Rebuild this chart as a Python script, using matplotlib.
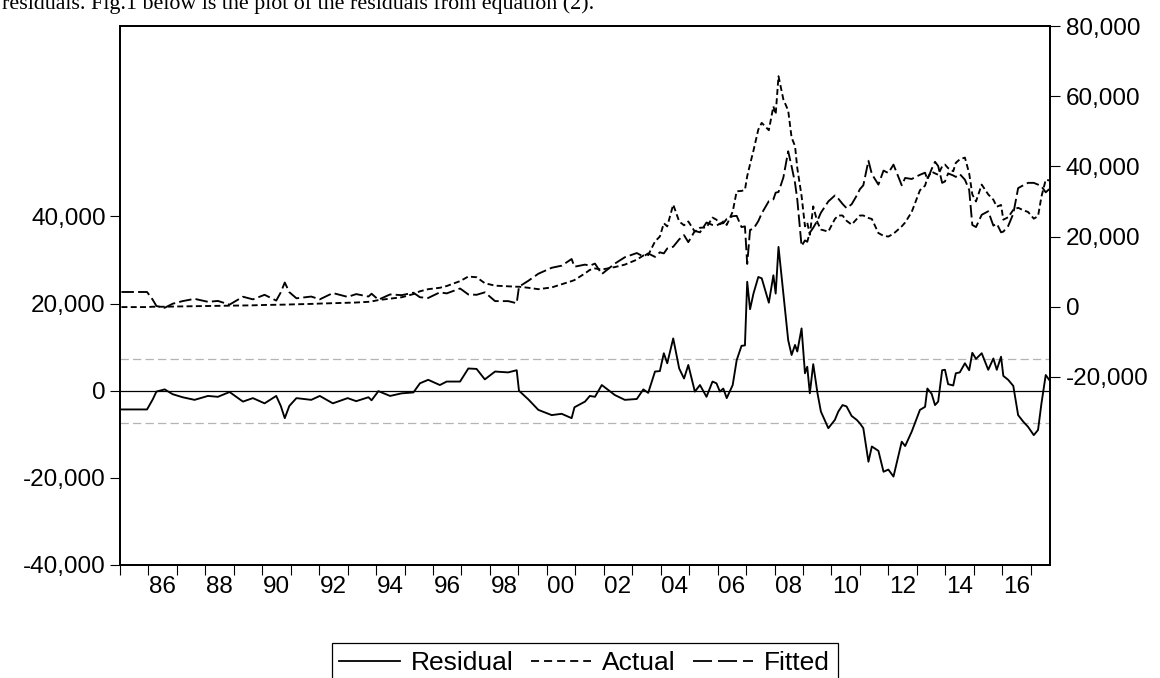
import matplotlib
matplotlib.use("Agg")
import matplotlib.pyplot as plt
from matplotlib.lines import Line2D
from matplotlib.ticker import FuncFormatter

plt.rcParams['font.family'] = ['Liberation Sans', 'DejaVu Sans']
plt.rcParams['lines.scale_dashes'] = False

dates = [1985.05, 1985.50, 1985.95, 1986.15, 1986.28, 1986.57, 1986.85, 1987.20, 1987.62, 1988.09,
         1988.44, 1988.85, 1989.32, 1989.67, 1990.08, 1990.49, 1990.65, 1990.79, 1990.95, 1991.20,
         1991.72, 1992.02, 1992.48, 1993.00, 1993.30, 1993.73, 1993.84, 1994.08, 1994.49, 1994.90,
         1995.31, 1995.54, 1995.83, 1996.24, 1996.48, 1996.95, 1997.24, 1997.53, 1997.82, 1998.18,
         1998.64, 1998.94, 1999.02, 1999.35, 1999.70, 2000.17, 2000.52, 2000.87, 2000.97, 2001.34,
         2001.51, 2001.69, 2001.93, 2002.39, 2002.74, 2003.16, 2003.39, 2003.56, 2003.80, 2003.97,
         2004.11, 2004.23, 2004.44, 2004.65, 2004.82, 2004.97, 2005.20, 2005.38, 2005.61, 2005.82,
         2005.96, 2006.08, 2006.20, 2006.32, 2006.53, 2006.67, 2006.84, 2006.96, 2007.04, 2007.14,
         2007.26, 2007.43, 2007.55, 2007.80, 2007.96, 2008.04, 2008.14, 2008.31, 2008.48, 2008.60,
         2008.72, 2008.80, 2008.95, 2009.07, 2009.15, 2009.24, 2009.36, 2009.51, 2009.63, 2009.89,
         2010.12, 2010.24, 2010.39, 2010.53, 2010.71, 2010.89, 2011.00, 2011.12, 2011.30, 2011.42,
         2011.65, 2011.83, 2012.00, 2012.18, 2012.47, 2012.59, 2012.82, 2013.11, 2013.29, 2013.37,
         2013.52, 2013.64, 2013.75, 2013.89, 2013.99, 2014.10, 2014.28, 2014.37, 2014.51, 2014.69,
         2014.84, 2014.95, 2015.08, 2015.28, 2015.51, 2015.69, 2015.81, 2015.96, 2016.04, 2016.21,
         2016.39, 2016.56, 2016.74, 2016.91, 2017.11, 2017.26, 2017.38, 2017.53, 2017.65]

residual = [-4300, -4300, -4300, -2000, -200, 300, -800, -1500, -2100, -1200,
            -1400, -300, -2500, -1700, -2900, -1200, -3500, -6300, -3500, -1700,
            -2100, -1200, -2900, -1700, -2400, -1500, -2200, -100, -1200, -600,
            -400, 1700, 2500, 1300, 2100, 2100, 5100, 5000, 2600, 4400,
            4200, 4700, 0, -2000, -4400, -5600, -5300, -6300, -3800, -2500,
            -1200, -1400, 1300, -1000, -2100, -1900, 300, -500, 4400, 4500,
            8600, 6300, 12000, 5100, 2800, 5900, -200, 1300, -1400, 2100,
            1700, -200, 500, -1700, 1300, 7000, 10300, 10400, 25000, 18700,
            22300, 26100, 25800, 20200, 26500, 22300, 33000, 22300, 11600, 8200,
            10500, 9000, 14300, 4000, 5500, -600, 6100, -600, -4800, -8600,
            -6700, -4800, -3300, -3600, -5800, -6700, -7500, -8600, -16300, -12800,
            -13800, -18600, -18100, -19700, -11700, -12700, -9400, -4400, -3700, 500,
            -700, -3300, -2500, 4700, 4800, 1500, 1200, 4000, 4200, 6300,
            4700, 8700, 7300, 8600, 4800, 7400, 4800, 7800, 3400, 2500,
            1100, -5600, -7100, -8300, -10200, -9000, -2900, 3600, 2500]

actual = [-100, -100, -100, 0, 0, 0, 50, 100, 150, 200,
          250, 300, 350, 400, 500, 550, 600, 600, 650, 700,
          800, 900, 1000, 1100, 1200, 1400, 1500, 1900, 2300, 2700,
          3600, 4400, 5000, 5400, 5900, 7300, 8600, 8400, 6700, 6000,
          5800, 5700, 5700, 5400, 5000, 5500, 6400, 7300, 7600, 9500,
          10500, 10900, 10600, 11300, 12000, 13400, 14600, 14700, 18600, 20000,
          23800, 22900, 29100, 24300, 23200, 24300, 21400, 22500, 22600, 25400,
          24800, 23500, 24300, 23300, 27100, 32900, 33000, 33300, 37200, 40600,
          44500, 50500, 52400, 50300, 57100, 54800, 65700, 59100, 55900, 48200,
          45800, 39500, 31600, 22900, 24000, 20500, 28600, 24000, 22000, 21400,
          25000, 26000, 26000, 24500, 23400, 25000, 26000, 26000, 25300, 25000,
          21000, 20200, 20000, 20800, 22900, 24000, 27000, 33200, 34500, 36700,
          38500, 38000, 37600, 40000, 40500, 39500, 38600, 41000, 42000, 42500,
          38000, 32000, 30000, 34800, 32000, 30500, 28500, 29000, 24800, 25500,
          27600, 28200, 27500, 27000, 25100, 25800, 31400, 36200, 36000]

fitted = [4200, 4200, 4200, 2000, 200, -300, 850, 1600, 2250, 1400,
          1650, 600, 2850, 2100, 3400, 1750, 4100, 6900, 4150, 2400,
          2900, 2100, 3900, 2800, 3600, 2900, 3700, 2000, 3500, 3300,
          4000, 2700, 2500, 4100, 3800, 5200, 3500, 3400, 4100, 1600,
          1600, 1000, 5700, 7400, 9400, 11100, 11700, 13600, 11400, 12000,
          11700, 12300, 9300, 12300, 14100, 15300, 14300, 15200, 14200, 15500,
          15200, 16600, 17100, 19200, 20400, 18400, 21600, 21200, 24000, 23300,
          23100, 23700, 23800, 25000, 25800, 25900, 22700, 22900, 12200, 21900,
          22200, 24400, 26600, 30100, 30600, 32500, 32700, 36800, 44300, 40000,
          35300, 30500, 17300, 18900, 18500, 21100, 22500, 24600, 26800, 30000,
          31700, 30800, 29300, 28100, 29200, 31700, 33500, 34600, 41600, 37800,
          34800, 38800, 38100, 40500, 34600, 36700, 36400, 37600, 38200, 36200,
          39200, 41300, 40100, 35300, 35700, 38000, 37400, 37000, 37800, 36200,
          33300, 23300, 22700, 26200, 27200, 23100, 23700, 21200, 21400, 23000,
          26500, 33800, 34600, 35300, 35300, 34800, 34300, 32600, 33500]

resid_se = 7300

year_ticks = list(range(1985, 2018))
label_years = list(range(1986, 2017, 2))
year_labels = ['86', '88', '90', '92', '94', '96', '98', '00',
               '02', '04', '06', '08', '10', '12', '14', '16']
left_ticks = [-40000, -20000, 0, 20000, 40000]
right_ticks = [-20000, 0, 20000, 40000, 60000, 80000]

fig = plt.figure(figsize=(11.6, 6.78), dpi=100)
ax = fig.add_axes([120 / 1160, 113 / 678, 930 / 1160, 539 / 678])
ax2 = ax.twinx()

# residual panel (left scale)
ax.axhline(0, color='black', lw=0.9)
ax.axhline(resid_se, color='#b4b4b4', lw=0.9, dashes=(6, 3))
ax.axhline(-resid_se, color='#b4b4b4', lw=0.9, dashes=(6, 3))
ax.plot(dates, residual, color='black', lw=1.35)

# actual and fitted (right scale)
ax2.plot(dates, actual, color='black', lw=1.35, dashes=(4.3, 2.4))
ax2.plot(dates, fitted, color='black', lw=1.35, dashes=(9, 3))

ax.set_xlim(1985, 2017.68)
ax.set_ylim(-40000, 83700)
ax2.set_ylim(-73600, 80000)

fmt = FuncFormatter(lambda v, p: f"{v:,.0f}")
ax.set_yticks(left_ticks)
ax.yaxis.set_major_formatter(fmt)
ax2.set_yticks(right_ticks)
ax2.yaxis.set_major_formatter(fmt)

ax.set_xticks(year_ticks)
ax.set_xticklabels([])
ax.set_xticks([y + 0.5 for y in label_years], minor=True)
ax.set_xticklabels(year_labels, minor=True)

ax.tick_params(axis='x', which='major', direction='out', length=7.2, width=0.8)
ax.tick_params(axis='x', which='minor', length=0, pad=8, labelsize=17.5)
ax.tick_params(axis='y', direction='out', length=7.2, width=0.8, labelsize=17.5, pad=3)
ax2.tick_params(axis='y', direction='out', length=7.2, width=0.8, labelsize=17.5, pad=4)

for a in (ax, ax2):
    for s in a.spines.values():
        s.set_linewidth(1.3)
        s.set_color('black')

fig.text(0.002, 1 - 9 / 678, "residuals. Fig.1 below is the plot of the residuals from equation (2).",
         family=['Liberation Serif', 'DejaVu Serif'], fontsize=15.8, va='baseline', ha='left')

handles = [Line2D([], [], color='black', lw=1.3),
           Line2D([], [], color='black', lw=1.3, dashes=(5.8, 3.6)),
           Line2D([], [], color='black', lw=1.3, dashes=(13.7, 4.3))]
leg = fig.legend(handles, ['Residual', 'Actual', 'Fitted'], loc='upper center',
                 bbox_to_anchor=(0.504, 1 - 643 / 678), ncol=3, fontsize=19,
                 frameon=True, fancybox=False, edgecolor='black', framealpha=1,
                 borderpad=0.3, handlelength=2.3, handletextpad=0.4,
                 columnspacing=0.65, borderaxespad=0)
leg.get_frame().set_linewidth(0.9)

fig.savefig('out.png', dpi=100)
